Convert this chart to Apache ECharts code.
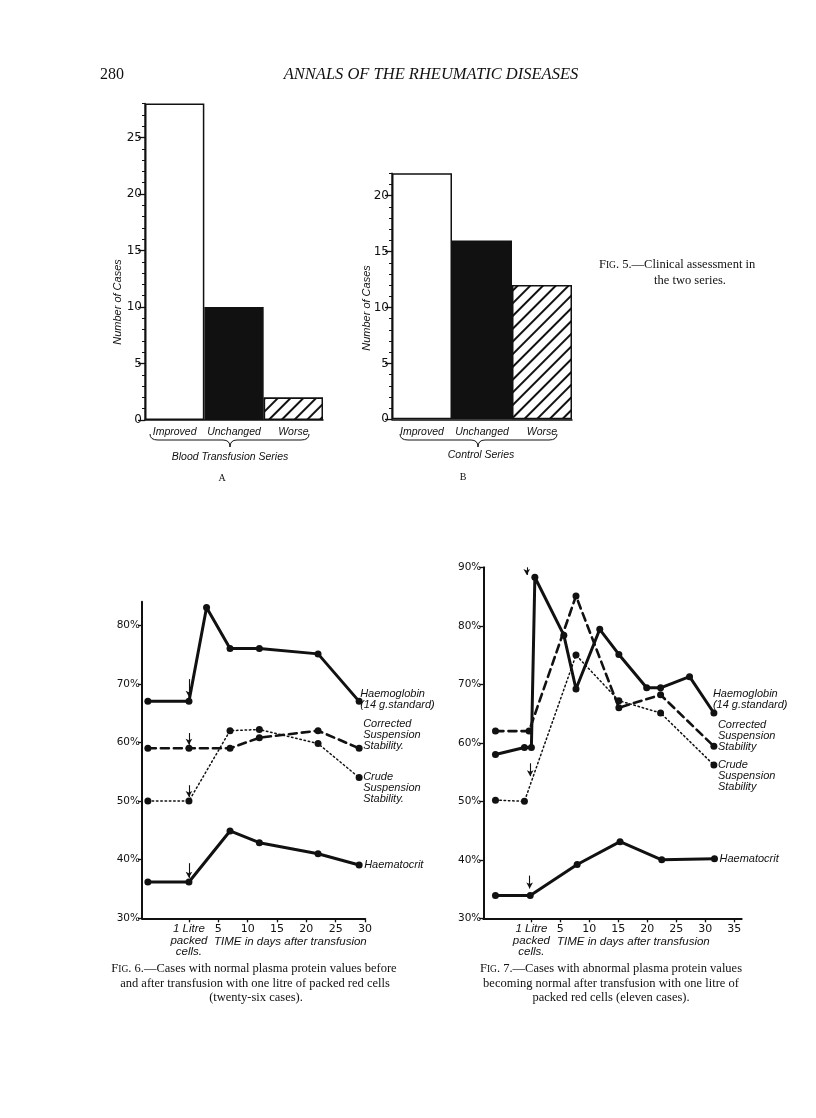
<!DOCTYPE html>
<html><head><meta charset="utf-8">
<script src="https://cdn.jsdelivr.net/npm/echarts@6/dist/echarts.min.js"></script>
<style>html,body{margin:0;padding:0;background:#fff}#c{width:816px;height:1118px}</style>
</head><body><div id="c"></div>
<script>
// ---------- DATA ----------
const categories = ['Improved', 'Unchanged', 'Worse'];
const bloodTransfusionCases = [28, 10, 2];
const controlCases = [22, 16, 12];
const barTicksA = [0, 5, 10, 15, 20, 25];
const barTicksB = [0, 5, 10, 15, 20];

// Fig. 6 (x = days relative to transfusion, y = %)
const fig6HbDays = [-7, 0, 3, 7, 12, 22, 29];
const fig6Haemoglobin = [67, 67, 83, 76, 76, 75.1, 67];
const fig6SuspDays = [-7, 0, 7, 12, 22, 29];
const fig6Corrected = [59, 59, 59, 60.8, 62, 59];
const fig6Crude = [50, 50, 62, 62.2, 59.8, 54];
const fig6HctDays = [-7, 0, 7, 12, 22, 29];
const fig6Haematocrit = [36.2, 36.2, 44.9, 42.9, 41, 39.1];
const fig6XTicks = [0, 5, 10, 15, 20, 25, 30];
const fig6YTicks = [30, 40, 50, 60, 70, 80];
const fig6Arrows = [[0, 70.8, 67.8], [0, 61.6, 59.6], [0, 52.7, 50.7], [0, 39.4, 36.9]];

// Fig. 7
const fig7HbDays = [-6.2, -1.2, 0, 0.6, 5.6, 7.7, 11.8, 15.1, 19.9, 22.3, 27.3, 31.5];
const fig7Haemoglobin = [58, 59.2, 59.2, 88.3, 78.4, 69.2, 79.4, 75.1, 69.4, 69.4, 71.3, 65.1];
const fig7CorrDays = [-6.2, -0.4, 7.7, 15.1, 22.3, 31.5];
const fig7Corrected = [62, 62, 85.1, 66, 68.2, 59.4];
const fig7CrudeDays = [-6.2, -1.2, 7.7, 15.1, 22.3, 31.5];
const fig7Crude = [50.2, 50, 75, 67.2, 65.1, 56.2];
const fig7HctDays = [-6.2, -0.2, 7.9, 15.3, 22.5, 31.6];
const fig7Haematocrit = [33.9, 33.9, 39.2, 43.1, 40, 40.2];
const fig7XTicks = [0, 5, 10, 15, 20, 25, 30, 35];
const fig7YTicks = [30, 40, 50, 60, 70, 80, 90];
const fig7Arrows = [[-0.8, 90, 88.7], [-0.2, 56.5, 54.3], [-0.3, 37.3, 35.1]];

// ---------- STYLE ----------
const SANS = '"Liberation Sans", Arial, sans-serif';
const NUM = '"DejaVu Sans", sans-serif';
const SERIF = '"Liberation Serif", "Times New Roman", serif';
const BLACK = '#111';

const chart = echarts.init(document.getElementById('c'), null, {renderer: 'canvas'});
const pairs = (xs, ys) => xs.map((x, i) => [x, ys[i]]);

const barStyles = [
  {color: '#fff', borderColor: BLACK, borderWidth: 1.5},
  {color: BLACK, borderColor: BLACK, borderWidth: 1.5},
  {color: '#fff', borderColor: BLACK, borderWidth: 1.5,
   decal: {symbol: 'rect', symbolSize: 1, dashArrayX: [[1, 0]], dashArrayY: [1.3, 6.2],
           rotation: -Math.PI / 4, color: BLACK, backgroundColor: '#fff'}}
];
const barData = vals => vals.map((v, i) => ({value: v, itemStyle: barStyles[i]}));

function barAxes(gridIndex, max, ticks) {
  return [
    {type: 'value', gridIndex, min: 0, max, interval: 1, position: 'left',
     axisLine: {show: false, onZero: false}, axisLabel: {show: false}, splitLine: {show: false},
     axisTick: {show: true, length: 3, lineStyle: {color: BLACK, width: 1}}},
    {type: 'value', gridIndex, min: 0, max, position: 'left',
     axisLine: {show: true, onZero: false, lineStyle: {color: BLACK, width: 1.5}},
     axisTick: {show: true, length: 7, customValues: ticks, lineStyle: {color: BLACK, width: 1.3}},
     axisLabel: {customValues: ticks, color: BLACK, fontFamily: NUM, fontSize: 12, margin: 3},
     splitLine: {show: false}}
  ];
}
const catAxis = gridIndex => ({
  type: 'category', gridIndex, data: categories, boundaryGap: true,
  axisLine: {lineStyle: {color: BLACK, width: 1.5}}, axisTick: {show: false},
  axisLabel: {interval: 0, color: BLACK, fontFamily: SANS, fontStyle: 'italic', fontSize: 10.5, margin: 7}
});

function lineX(gridIndex, min, max, ticks) {
  return {type: 'value', gridIndex, min, max,
    axisLine: {onZero: false, lineStyle: {color: BLACK, width: 2}},
    axisTick: {customValues: ticks, length: 4, lineStyle: {color: BLACK, width: 1.3}},
    axisLabel: {customValues: ticks, color: BLACK, fontFamily: NUM, fontSize: 11, margin: 5,
      lineHeight: 11.5,
      formatter: v => v === 0 ? '{it|1 Litre}\n{it|packed}\n{it|cells.}' : String(v),
      rich: {it: {fontFamily: SANS, fontStyle: 'italic', fontSize: 11.5, lineHeight: 11.5, color: BLACK}}},
    splitLine: {show: false}};
}
function lineY(gridIndex, min, max, ticks) {
  return {type: 'value', gridIndex, min, max,
    axisLine: {show: true, onZero: false, lineStyle: {color: BLACK, width: 2}},
    axisTick: {customValues: ticks, length: 4, lineStyle: {color: BLACK, width: 1.3}},
    axisLabel: {customValues: ticks, formatter: '{value}%', color: BLACK, fontFamily: NUM, fontSize: 10.5, margin: 2},
    splitLine: {show: false}};
}

const endLbl = (text, dx, dy) => ({
  show: true, formatter: text, color: BLACK, fontFamily: SANS, fontStyle: 'italic',
  fontSize: 11, lineHeight: 11, distance: 3, offset: [dx, dy], align: 'left'
});
function lineSeries(xi, yi, data, kind, label) {
  const ls = {solid: {type: 'solid', width: 3}, dashed: {type: [8, 5], width: 2.6}, dotted: {type: [1.5, 2.8], width: 1.5}}[kind];
  return {type: 'line', xAxisIndex: xi, yAxisIndex: yi, data, symbol: 'circle', symbolSize: 7,
    showAllSymbol: true, itemStyle: {color: BLACK}, lineStyle: Object.assign({color: BLACK, cap: 'round'}, ls),
    endLabel: label, silent: true, z: kind === 'solid' ? 3 : 2};
}
function arrowSeries(xi, yi, arrows) {
  return {type: 'line', xAxisIndex: xi, yAxisIndex: yi, data: [], clip: false, silent: true, z: 5,
    markLine: {silent: true, symbol: ['none', 'arrow'], symbolSize: [5, 6], label: {show: false},
      lineStyle: {color: BLACK, type: 'solid', width: 1.1},
      data: arrows.map(a => [{coord: [a[0], a[1]]}, {coord: [a[0], a[2]]}])}};
}

const capRich = {
  n: {fontFamily: SERIF, fontSize: 12.5, color: BLACK},
  s: {fontFamily: SERIF, fontSize: 9.5, color: BLACK}
};
const txt = (text, x, y, opts, rot) => ({type: 'text', silent: true, x, y, rotation: rot || 0, style: Object.assign({
  text, x: 0, y: 0, fill: BLACK, textAlign: 'center', textVerticalAlign: 'middle',
  font: 'italic 10.5px ' + SANS}, opts || {})});
const seg = (x1, y1, x2, y2) => ({type: 'line', silent: true, shape: {x1, y1, x2, y2}, style: {stroke: BLACK, lineWidth: 1}});
const curve = (x1, y1, cx, cy, x2, y2) => ({type: 'bezierCurve', silent: true,
  shape: {x1, y1, x2, y2, cpx1: cx, cpy1: cy}, style: {stroke: BLACK, lineWidth: 1, fill: null}});
const brace = (x1, x2, c, y) => ({type: 'group', silent: true, children: [
  curve(x1, y, x1, y + 6, x1 + 8, y + 6),
  seg(x1 + 8, y + 6, c - 7, y + 6),
  curve(c - 7, y + 6, c, y + 6, c, y + 13),
  curve(c, y + 13, c, y + 6, c + 7, y + 6),
  seg(c + 7, y + 6, x2 - 8, y + 6),
  curve(x2 - 8, y + 6, x2, y + 6, x2, y)
]});
const rich = (text, x, y) => ({type: 'text', silent: true, x, y, style: {x: 0, y: 0, textAlign: 'center',
  textVerticalAlign: 'middle', fill: BLACK, text, rich: capRich}});

chart.setOption({
  animation: false,
  backgroundColor: '#fff',
  grid: [
    {left: 145, top: 103.6, width: 178, height: 316.4},
    {left: 392, top: 173.3, width: 180, height: 246},
    {left: 142, top: 601.7, width: 223, height: 316.6},
    {left: 483.3, top: 567.3, width: 258.4, height: 351}
  ],
  xAxis: [catAxis(0), catAxis(1), lineX(2, -8, 30, fig6XTicks), lineX(3, -8.3, 36.3, fig7XTicks)],
  yAxis: [
    ...barAxes(0, 28, barTicksA),
    ...barAxes(1, 22, barTicksB),
    lineY(2, 30, 84, fig6YTicks),
    lineY(3, 30, 90, fig7YTicks)
  ],
  series: [
    {type: 'bar', xAxisIndex: 0, yAxisIndex: 1, data: barData(bloodTransfusionCases), barWidth: '100%', silent: true},
    {type: 'bar', xAxisIndex: 1, yAxisIndex: 3, data: barData(controlCases), barWidth: '100%', silent: true},

    lineSeries(2, 4, pairs(fig6HbDays, fig6Haemoglobin), 'solid', endLbl('Haemoglobin\n(14 g.standard)', -2, -2)),
    lineSeries(2, 4, pairs(fig6SuspDays, fig6Corrected), 'dashed', endLbl('Corrected\nSuspension\nStability.', 1, -13)),
    lineSeries(2, 4, pairs(fig6SuspDays, fig6Crude), 'dotted', endLbl('Crude\nSuspension\nStability.', 1, 10)),
    lineSeries(2, 4, pairs(fig6HctDays, fig6Haematocrit), 'solid', endLbl('Haematocrit', 2, 0)),
    arrowSeries(2, 4, fig6Arrows),

    lineSeries(3, 5, pairs(fig7HbDays, fig7Haemoglobin), 'solid', endLbl('Haemoglobin\n(14 g.standard)', -4, -14)),
    lineSeries(3, 5, pairs(fig7CorrDays, fig7Corrected), 'dashed', endLbl('Corrected\nSuspension\nStability', 1, -10)),
    lineSeries(3, 5, pairs(fig7CrudeDays, fig7Crude), 'dotted', endLbl('Crude\nSuspension\nStability', 1, 11)),
    lineSeries(3, 5, pairs(fig7HctDays, fig7Haematocrit), 'solid', endLbl('Haematocrit', 2, 0)),
    arrowSeries(3, 5, fig7Arrows)
  ],
  graphic: [
    txt('280', 100, 75, {textAlign: 'left', font: '16px ' + SERIF}),
    txt('ANNALS OF THE RHEUMATIC DISEASES', 431, 75, {font: 'italic 16.5px ' + SERIF}),

    txt('Number of Cases', 118, 302, {font: 'italic 11px ' + SANS}, Math.PI / 2),
    txt('Number of Cases', 367, 308, {font: 'italic 11px ' + SANS}, Math.PI / 2),
    brace(150, 309, 230, 434),
    brace(400, 557, 478, 434),
    txt('Blood Transfusion Series', 230, 457),
    txt('Control Series', 481, 455),
    txt('A', 222, 478, {font: '10px ' + SERIF}),
    txt('B', 463, 477, {font: '10px ' + SERIF}),
    {type: 'text', silent: true, x: 599, y: 265, style: {x: 0, y: 0, textVerticalAlign: 'middle', fill: BLACK,
      text: '{n|F}{s|IG}{n|. 5.—Clinical assessment in}', rich: capRich}},
    txt('the two series.', 690, 281, {font: '12.5px ' + SERIF}),

    txt('TIME in days after transfusion', 214, 942, {textAlign: 'left', font: 'italic 11.5px ' + SANS}),
    txt('TIME in days after transfusion', 557, 942, {textAlign: 'left', font: 'italic 11.5px ' + SANS}),

    rich('{n|F}{s|IG}{n|. 6.—Cases with normal plasma protein values before}', 254, 969),
    txt('and after transfusion with one litre of packed red cells', 255, 984, {font: '12.5px ' + SERIF}),
    txt('(twenty-six cases).', 256, 998, {font: '12.5px ' + SERIF}),
    rich('{n|F}{s|IG}{n|. 7.—Cases with abnormal plasma protein values}', 611, 969),
    txt('becoming normal after transfusion with one litre of', 611, 984, {font: '12.5px ' + SERIF}),
    txt('packed red cells (eleven cases).', 611, 998, {font: '12.5px ' + SERIF})
  ]
});
</script></body></html>
